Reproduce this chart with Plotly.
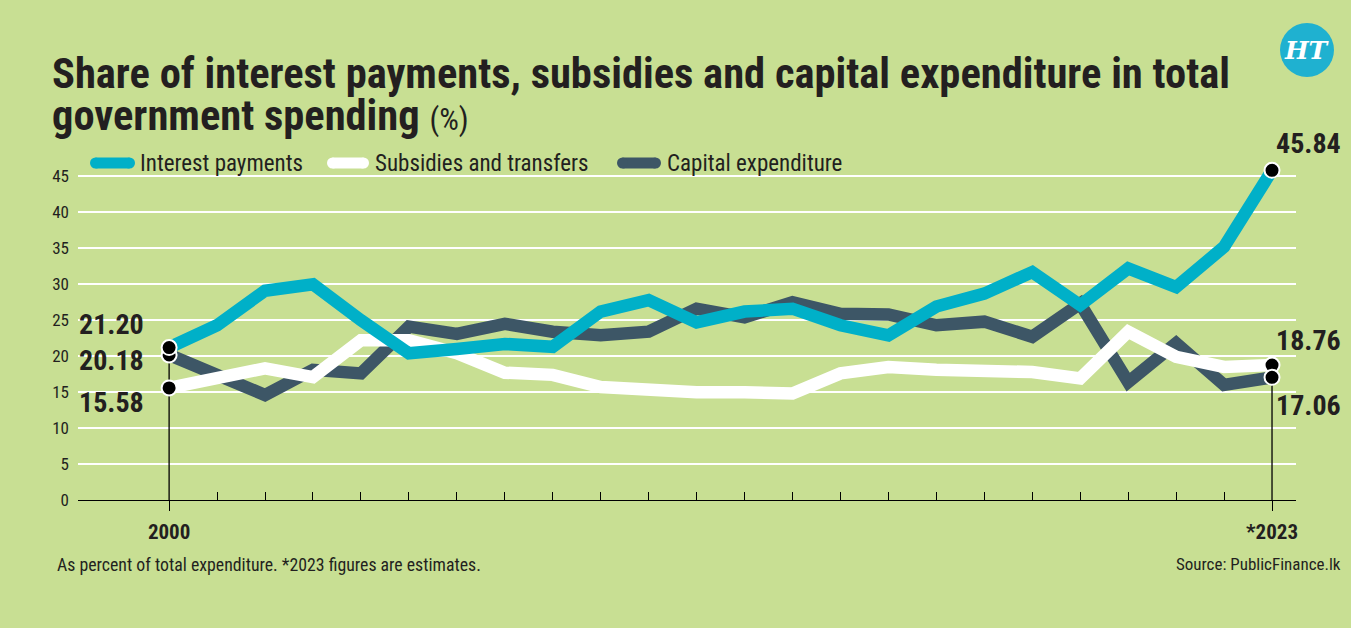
import plotly.graph_objects as go

# ---------------- data ----------------
years = list(range(2000, 2024))
interest = [21.20, 24.3, 29.1, 30.0, 25.0, 20.4, 21.0, 21.7, 21.3, 26.2, 27.8, 24.7,
            26.2, 26.6, 24.3, 22.9, 26.9, 28.7, 31.7, 27.1, 32.2, 29.6, 35.2, 45.84]
subsidies = [15.58, 17.1, 18.3, 17.1, 22.2, 22.2, 20.4, 17.7, 17.4, 15.7, 15.2, 15.0,
             15.0, 14.8, 17.6, 18.5, 18.1, 17.9, 17.8, 16.9, 23.4, 19.9, 18.5, 18.76]
capital = [20.18, 17.6, 14.6, 18.1, 17.6, 24.1, 23.1, 24.5, 23.4, 22.9, 23.4, 26.6,
           25.4, 27.5, 25.9, 25.8, 24.3, 24.8, 22.7, 27.3, 16.4, 21.8, 16.0, 17.06]
series_names = ["Interest payments", "Subsidies and transfers", "Capital expenditure"]
y_ticks = [0, 5, 10, 15, 20, 25, 30, 35, 40, 45]
x_tick_vals = [2000, 2023]
x_tick_text = ["2000", "*2023"]

# ---------------- style ----------------
W, H = 1351, 628
ML, MR, MT, MB = 78, 55, 162, 128
PW, PH = W - ML - MR, H - MT - MB
BG = "#c8df93"
CYAN = "#00b0c8"
DARK = "#3d5666"
WHITE = "#ffffff"
TXT = "#231f20"
FONT = "Liberation Sans Narrow, Roboto Condensed, DejaVu Sans Condensed, sans-serif"


def xp(px):
    return (px - ML) / PW


def yp(py):
    return (H - MB - py) / PH


fig = go.Figure()

# thin vertical guide lines at both ends
fig.add_trace(go.Scatter(x=[years[0], years[0]], y=[0, max(interest[0], subsidies[0], capital[0])],
                         mode="lines", line=dict(color="black", width=1.3),
                         hoverinfo="skip", showlegend=False))
fig.add_trace(go.Scatter(x=[years[-1], years[-1]], y=[0, subsidies[-1]],
                         mode="lines", line=dict(color="black", width=1.3),
                         hoverinfo="skip", showlegend=False))

# main lines (bottom -> top: capital, subsidies, interest)
for vals, col, name in [(capital, DARK, series_names[2]),
                        (subsidies, WHITE, series_names[1]),
                        (interest, CYAN, series_names[0])]:
    fig.add_trace(go.Scatter(x=years, y=vals, mode="lines", name=name,
                             line=dict(color=col, width=12.5), showlegend=False))

# end markers (order: subsidies, capital, interest)
for vals in [subsidies, capital, interest]:
    fig.add_trace(go.Scatter(x=[years[0], years[-1]], y=[vals[0], vals[-1]], mode="markers",
                             marker=dict(size=15, color="black", line=dict(color="white", width=2)),
                             hoverinfo="skip", showlegend=False, cliponaxis=False))

annotations = []
shapes = []

# value labels
val_font = dict(family=FONT, size=28, color=TXT)
left_labels = [(interest[0], 324), (capital[0], 360), (subsidies[0], 402)]
for v, py in left_labels:
    annotations.append(dict(x=xp(146), y=yp(py), xref="paper", yref="paper",
                            text=f"<b>{v:.2f}</b>", showarrow=False, xanchor="right",
                            yanchor="middle", font=val_font))
right_labels = [(interest[-1], 143), (subsidies[-1], 340), (capital[-1], 405)]
for v, py in right_labels:
    annotations.append(dict(x=xp(1274), y=yp(py), xref="paper", yref="paper",
                            text=f"<b>{v:.2f}</b>", showarrow=False, xanchor="left",
                            yanchor="middle", font=val_font))

# title
title_font = dict(family=FONT, size=42.5, color=TXT)
annotations.append(dict(x=xp(50), y=yp(73), xref="paper", yref="paper",
                        text="<b>Share of interest payments, subsidies and capital expenditure in total</b>",
                        showarrow=False, xanchor="left", yanchor="middle", font=title_font))
annotations.append(dict(x=xp(50), y=yp(115), xref="paper", yref="paper",
                        text="<b>government spending</b> <span style='font-size:31px'>(%)</span>",
                        showarrow=False, xanchor="left", yanchor="middle", font=title_font))

# legend (manual)
leg_items = [(series_names[0], CYAN, 90, 135, 138),
             (series_names[1], WHITE, 327, 369, 373),
             (series_names[2], DARK, 617, 661, 665)]
leg_y = 163
for name, col, x0, x1, tx in leg_items:
    r = 5.5
    shapes.append(dict(type="line", xref="paper", yref="paper",
                       x0=xp(x0 + r), x1=xp(x1 - r), y0=yp(leg_y), y1=yp(leg_y),
                       line=dict(color=col, width=11)))
    for cx in (x0 + r, x1 - r):
        shapes.append(dict(type="circle", xref="paper", yref="paper",
                           xsizemode="pixel", ysizemode="pixel",
                           xanchor=xp(cx), yanchor=yp(leg_y),
                           x0=-r, x1=r, y0=-r, y1=r,
                           fillcolor=col, line=dict(width=0)))
    annotations.append(dict(x=xp(tx), y=yp(leg_y), xref="paper", yref="paper",
                            text=name, showarrow=False, xanchor="left", yanchor="middle",
                            font=dict(family=FONT, size=23, color=TXT)))

# footer
annotations.append(dict(x=xp(55), y=yp(564), xref="paper", yref="paper",
                        text="As percent of total expenditure. *2023 figures are estimates.",
                        showarrow=False, xanchor="left", yanchor="middle",
                        font=dict(family=FONT, size=17.8, color=TXT)))
annotations.append(dict(x=xp(1343), y=yp(564), xref="paper", yref="paper",
                        text="Source: PublicFinance.lk",
                        showarrow=False, xanchor="right", yanchor="middle",
                        font=dict(family=FONT, size=17, color=TXT)))

# logo
shapes.append(dict(type="circle", xref="paper", yref="paper",
                   xsizemode="pixel", ysizemode="pixel",
                   xanchor=xp(1307), yanchor=yp(50), x0=-27, x1=27, y0=-27, y1=27,
                   fillcolor="#1fb1d0", line=dict(width=0)))
annotations.append(dict(x=xp(1307), y=yp(50), xref="paper", yref="paper",
                        text="<b><i>HT</i></b>", showarrow=False, xanchor="center", yanchor="middle",
                        font=dict(family="DejaVu Serif, serif", size=25, color="white")))

fig.update_layout(
    width=W, height=H,
    margin=dict(l=ML, r=MR, t=MT, b=MB, pad=0),
    paper_bgcolor=BG, plot_bgcolor=BG,
    showlegend=False,
    annotations=annotations,
    shapes=shapes,
    font=dict(family=FONT, color=TXT),
    xaxis=dict(range=[1998.1, 2023.5], tickmode="array", tickvals=x_tick_vals, ticktext=x_tick_text,
               ticks="outside", ticklen=10, tickwidth=1.2, tickcolor="black",
               minor=dict(ticks="inside", ticklen=8, tickwidth=1.2, tickcolor="black",
                          tickmode="array", tickvals=years[1:-1], showgrid=False),
               showgrid=False, zeroline=False, showline=True, linecolor="black", linewidth=1.3,
               tickfont=dict(family=FONT, size=21, color=TXT, weight="bold"),
               ticklabelstandoff=3, fixedrange=True),
    yaxis=dict(range=[0, 47], tickmode="array", tickvals=y_ticks,
               showgrid=True, gridcolor="white", gridwidth=1.5, zeroline=False,
               showline=False, ticks="", ticklabelstandoff=8,
               tickfont=dict(family=FONT, size=17, color=TXT), fixedrange=True),
)

fig.write_html("out.html")
